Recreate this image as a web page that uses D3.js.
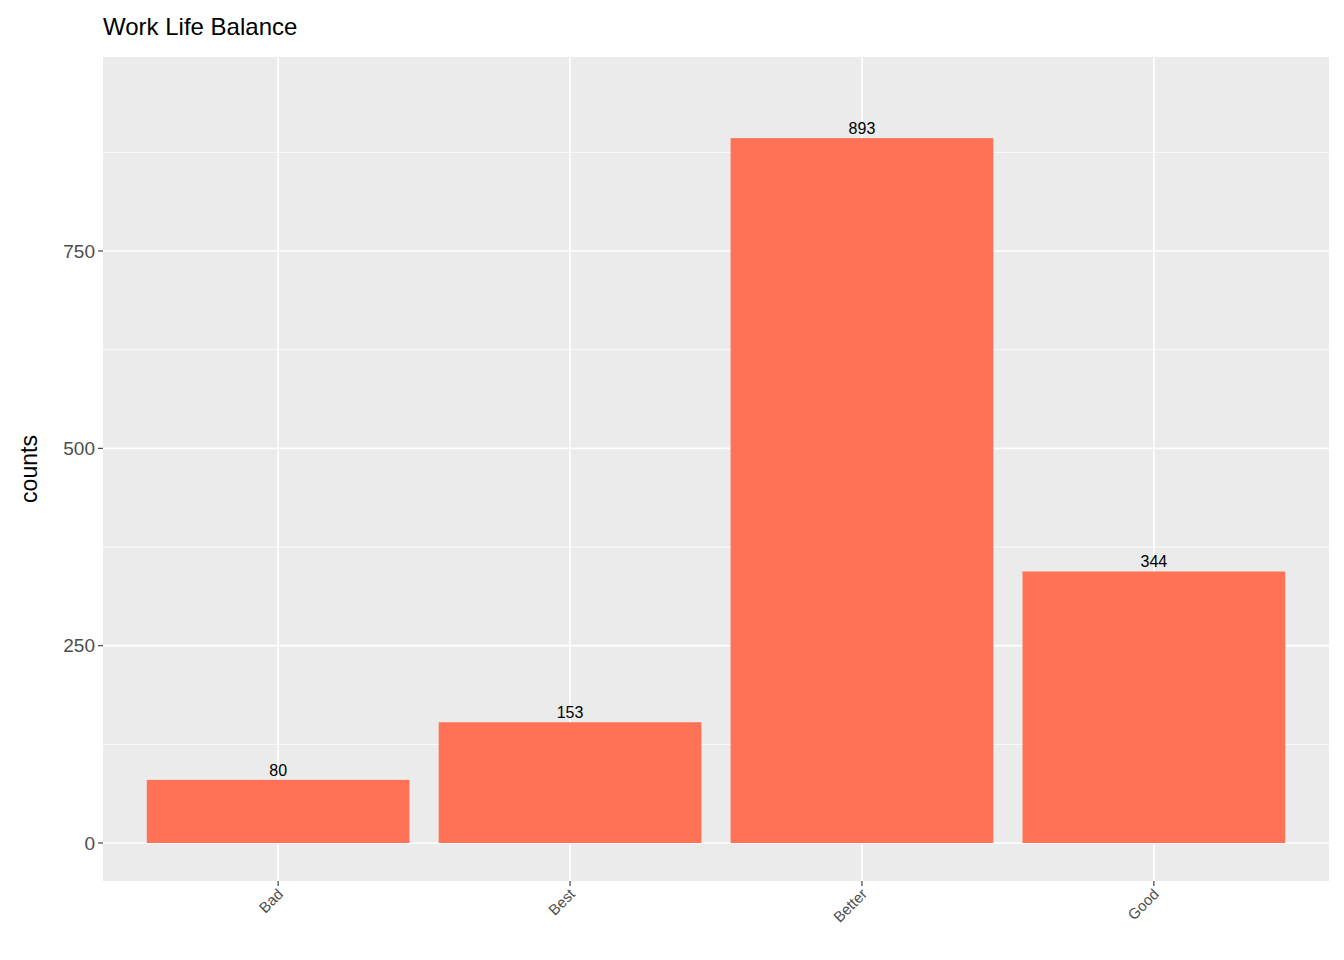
<!DOCTYPE html>
<html><head><meta charset="utf-8">
<script src="https://cdn.jsdelivr.net/npm/d3@7"></script>
<style>body{margin:0;background:#fff}text{font-family:"Liberation Sans",Arial,sans-serif}</style>
</head><body>
<svg width="1344" height="960"></svg>
<script>
const categories = ["Bad", "Best", "Better", "Good"];
const counts = [80, 153, 893, 344];
const yTicks = [0, 250, 500, 750];
const yMinor = [125, 375, 625, 875];

const svg = d3.select("svg");
const pLeft = 103, pRight = 1329, pTop = 57, pBottom = 881;

// discrete axis with ggplot's 0.6 expansion
let x = d3.scaleLinear().domain([-0.6, categories.length - 0.4]).range([pLeft, pRight]);
let y = d3.scaleLinear().domain([0, 750]).range([843, 251]);
const bw = 0.9 * (x(1) - x(0));

svg.append("rect").attr("x", pLeft).attr("y", pTop).attr("width", pRight - pLeft)
  .attr("height", pBottom - pTop).attr("fill", "#ebebeb");

svg.selectAll(".minor").data(yMinor).join("line")
  .attr("x1", pLeft).attr("x2", pRight).attr("y1", d => y(d)).attr("y2", d => y(d))
  .attr("stroke", "#fff").attr("stroke-width", 0.8);
svg.selectAll(".major").data(yTicks).join("line")
  .attr("x1", pLeft).attr("x2", pRight).attr("y1", d => y(d)).attr("y2", d => y(d))
  .attr("stroke", "#fff").attr("stroke-width", 1.6);
svg.selectAll(".vgrid").data(categories).join("line")
  .attr("x1", (d, i) => x(i)).attr("x2", (d, i) => x(i)).attr("y1", pTop).attr("y2", pBottom)
  .attr("stroke", "#fff").attr("stroke-width", 1.6);

svg.selectAll(".bar").data(counts).join("rect")
  .attr("x", (d, i) => x(i) - bw / 2).attr("width", bw)
  .attr("y", d => y(d)).attr("height", d => y(0) - y(d))
  .attr("fill", "#FF7256");

svg.selectAll(".lab").data(counts).join("text")
  .attr("x", (d, i) => x(i)).attr("y", d => y(d) - 4)
  .attr("text-anchor", "middle").attr("font-size", 16).attr("fill", "#000")
  .text(d => d);

// y axis
svg.selectAll(".yt").data(yTicks).join("line")
  .attr("x1", pLeft - 5).attr("x2", pLeft).attr("y1", d => y(d)).attr("y2", d => y(d))
  .attr("stroke", "#333").attr("stroke-width", 1.1);
svg.selectAll(".yl").data(yTicks).join("text")
  .attr("x", pLeft - 8).attr("y", d => y(d)).attr("dy", "0.35em")
  .attr("text-anchor", "end").attr("font-size", 19).attr("fill", "#4d4d4d")
  .text(d => d);

// x axis
svg.selectAll(".xt").data(categories).join("line")
  .attr("x1", (d, i) => x(i)).attr("x2", (d, i) => x(i)).attr("y1", pBottom).attr("y2", pBottom + 5)
  .attr("stroke", "#333").attr("stroke-width", 1.1);
svg.selectAll(".xl").data(categories).join("text")
  .attr("transform", (d, i) => `translate(${x(i) + 6},${pBottom + 14}) rotate(-45)`)
  .attr("text-anchor", "end").attr("font-size", 15).attr("fill", "#4d4d4d")
  .text(d => d);

svg.append("text").attr("transform", `translate(37,${(pTop + pBottom) / 2}) rotate(-90)`)
  .attr("text-anchor", "middle").attr("font-size", 23).attr("fill", "#000").text("counts");

svg.append("text").attr("x", pLeft).attr("y", 35).attr("font-size", 24).attr("fill", "#000")
  .text("Work Life Balance");
</script>
</body></html>
